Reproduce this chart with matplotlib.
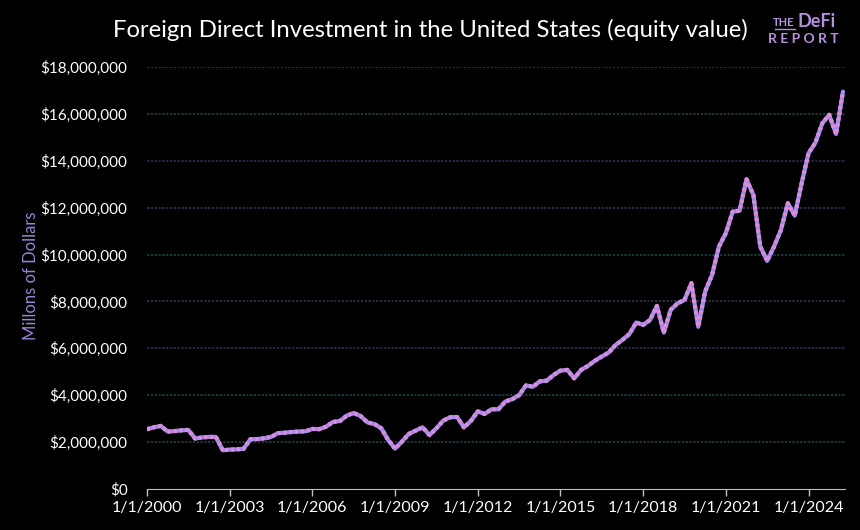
import matplotlib
matplotlib.use("Agg")
import matplotlib.pyplot as plt
import pandas as pd
from matplotlib.ticker import FuncFormatter

# quarterly, 2000Q1 .. 2025Q2, millions of dollars
fdi_values = [
    2.55, 2.63, 2.69, 2.45, 2.47, 2.50, 2.52, 2.15, 2.20, 2.22,
    2.22, 1.65, 1.68, 1.69, 1.71, 2.12, 2.13, 2.16, 2.22, 2.38,
    2.40, 2.43, 2.45, 2.46, 2.56, 2.55, 2.66, 2.86, 2.90, 3.13,
    3.24, 3.11, 2.84, 2.77, 2.59, 2.09, 1.72, 2.02, 2.35, 2.49,
    2.63, 2.30, 2.59, 2.92, 3.06, 3.07, 2.63, 2.90, 3.31, 3.20,
    3.40, 3.40, 3.73, 3.83, 4.00, 4.42, 4.36, 4.59, 4.62, 4.86,
    5.05, 5.08, 4.72, 5.08, 5.25, 5.47, 5.65, 5.82, 6.14, 6.36,
    6.61, 7.10, 7.00, 7.21, 7.81, 6.67, 7.64, 7.92, 8.06, 8.78,
    6.92, 8.42, 9.13, 10.34, 10.91, 11.83, 11.87, 13.21, 12.54, 10.34,
    9.73, 10.34, 11.05, 12.19, 11.66, 13.04, 14.32, 14.77, 15.60, 15.96,
    15.14, 16.95,
]
quarters = pd.date_range("2000-01-01", periods=len(fdi_values), freq="QS")
tick_years = [2000, 2003, 2006, 2009, 2012, 2015, 2018, 2021, 2024]
y_ticks = [0, 2, 4, 6, 8, 10, 12, 14, 16, 18]
grid_colors = ["#1e4a4a", "#1e4a4a", "#1e4a4a", "#34345e", "#3a3a55",
               "#1e4a4a", "#3a3a55", "#34345e", "#1e4a4a", "#3a3a55"]

plt.rcParams['font.family'] = ['Lato', 'DejaVu Sans']


def main():
    fig = plt.figure(figsize=(8.6, 5.3), dpi=100, facecolor="black")
    ax = fig.add_axes([0.1709, 0.0774, 0.8117, 0.7962])
    ax.set_facecolor("black")

    x = list(range(len(quarters)))
    vals = [v * 1e6 for v in fdi_values]
    ax.plot(x, vals, color="#a08cf0", lw=3.0, solid_capstyle="round", zorder=3)
    ax.plot(x, vals, color="#e68ad6", lw=3.0, dashes=(0.7, 0.7), zorder=4)

    ax.set_xlim(0, 101.3)
    ax.set_ylim(0, 18e6)

    pos = [list(quarters.year).index(yr) for yr in tick_years]
    ax.set_xticks(pos)
    ax.set_xticklabels(["1/1/%d" % yr for yr in tick_years])
    ax.set_yticks([t * 1e6 for t in y_ticks])
    ax.yaxis.set_major_formatter(FuncFormatter(lambda v, p: "${:,.0f}".format(v)))

    ax.tick_params(axis="x", colors="#bfbfbf", length=5, width=1, labelcolor="white",
                   labelsize=11.5, pad=4)
    ax.tick_params(axis="y", length=0, labelcolor="white", labelsize=11, pad=14)

    for s in ["top", "right", "left"]:
        ax.spines[s].set_visible(False)
    ax.spines["bottom"].set_color("#bfbfbf")

    # dotted gridlines, colour alternates a bit in the original
    for t, c in zip(y_ticks[1:], grid_colors[1:]):
        ax.axhline(t * 1e6, color=c, lw=1.1, ls=(0, (1.5, 1)), zorder=1)

    fig.text(0.036, 0.48, "Millons of Dollars", color="#9d80d8", fontsize=12,
             rotation=90, ha="center", va="center")

    fig.text(0.500, 0.943, "Foreign Direct Investment in the United States (equity value)",
             color="white", fontsize=17.2, ha="center", va="center")

    # logo
    fig.text(0.924, 0.958, "THE", color="#b98fe0", fontsize=8, fontweight="bold",
             ha="right", va="center")
    fig.text(0.927, 0.960, "DeFi", color="#b98fe0", fontsize=13, fontweight="bold",
             ha="left", va="center")
    fig.text(0.934, 0.926, "R E P O R T", color="#b98fe0", fontsize=10, fontweight="bold",
             ha="center", va="center")
    fig.add_artist(plt.Line2D([0.901, 0.924], [0.945, 0.945], color="#b98fe0", lw=1))

    fig.savefig("out.png", dpi=100, facecolor="black")


if __name__ == "__main__":
    main()
